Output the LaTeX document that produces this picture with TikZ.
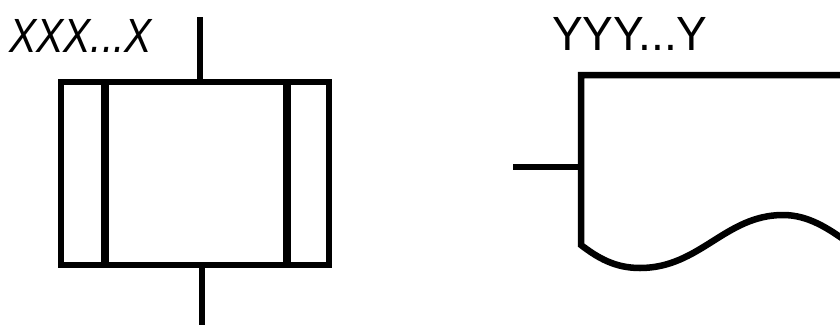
\documentclass[tikz,border=0pt]{standalone}
\usepackage{fontspec}
\setmainfont{Liberation Sans}
\begin{document}
\begin{tikzpicture}[x=1pt,y=-1pt,
  thick line/.style={line width=6.5pt,line join=miter},
  thin line/.style={line width=5.5pt},
  label text/.style={inner sep=0pt,anchor=base west,font=\fontsize{48}{48}\selectfont}]
\useasboundingbox (0,0) rectangle (840,327);
\clip (0,0) rectangle (840,327);
% left symbol
\coordinate (boxtl) at (61,82);
\coordinate (boxbr) at (329,265);
\draw[thick line] (boxtl) rectangle (boxbr);
\draw[line width=8pt] (105,82) -- (105,265);
\draw[line width=8pt] (287,82) -- (287,265);
\coordinate (intop) at (200,17);
\coordinate (inbot) at (200,82);
\coordinate (outtop) at (202,265);
\coordinate (outbot) at (202,325);
\draw[thin line] (intop) -- (inbot);
\draw[thin line] (outtop) -- (outbot);
\node[label text] (xlab) at (9,52) {\scalebox{0.85}[1]{\itshape XXX...X}};
% right symbol (document)
\coordinate (doctl) at (581,75);
\coordinate (docbl) at (581,245);
\draw[thick line] (850,75) -- (doctl) -- (docbl)
  .. controls (598,258) and (615,268) .. (640,268)
  .. controls (700,268) and (725,215) .. (783,215)
  .. controls (808,215) and (828,228) .. (850,244);
\coordinate (stubl) at (513,167);
\coordinate (stubr) at (581,167);
\draw[thin line] (stubl) -- (stubr);
\node[label text] (ylab) at (552,50) {\scalebox{0.96}[1]{YYY...Y}};
\end{tikzpicture}
\end{document}
